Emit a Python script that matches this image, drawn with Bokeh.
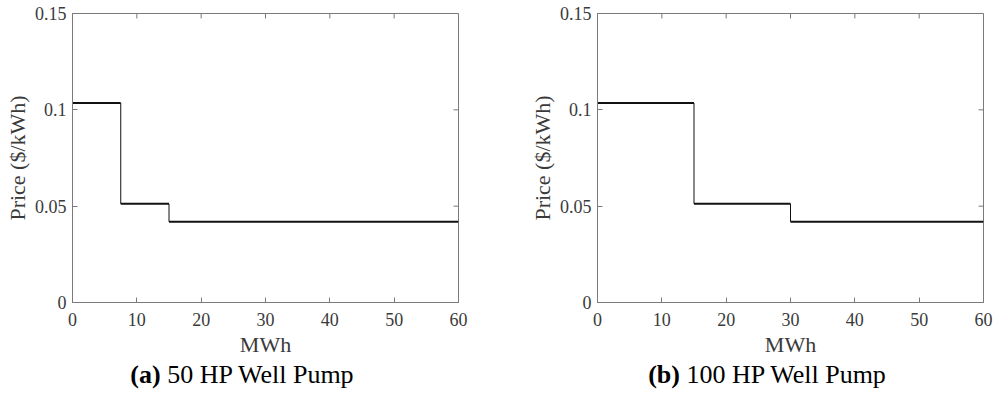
import math
from bokeh.plotting import figure
from bokeh.models import Range1d, FixedTicker, NumeralTickFormatter, Div
from bokeh.layouts import row, column
from bokeh.embed import file_html
from bokeh.resources import INLINE

# Data
breaks_a = [0, 7.5, 15, 60]
breaks_b = [0, 15, 30, 60]
prices = [0.1035, 0.0512, 0.0419]
x_ticks = [0, 10, 20, 30, 40, 50, 60]
y_ticks = [0, 0.05, 0.1, 0.15]
captions = [("(a)", "50 HP Well Pump"), ("(b)", "100 HP Well Pump")]

FONT = "Liberation Serif"
AX_COLOR = "#7a7a7a"
TXT_COLOR = "#3a3a3a"


def style_axis(ax):
    ax.axis_line_color = AX_COLOR
    ax.major_tick_line_color = AX_COLOR
    ax.major_tick_in = 5
    ax.major_tick_out = 0
    ax.minor_tick_line_color = None
    ax.major_label_text_font = FONT
    ax.major_label_text_color = TXT_COLOR
    ax.major_label_text_font_size = "18px"
    ax.axis_label_text_font = FONT
    ax.axis_label_text_color = TXT_COLOR
    ax.axis_label_text_font_style = "normal"
    ax.axis_label_text_font_size = "22px"


def make_panel(breaks, width, right_border):
    p = figure(width=width, output_backend="svg", toolbar_location=None,
               x_range=Range1d(0, 60), y_range=Range1d(0, 0.15),
               min_border_left=72, min_border_right=right_border,
               min_border_top=13, min_border_bottom=55)
    p.frame_width = 386
    p.frame_height = 289
    p.grid.visible = False
    p.outline_line_color = AX_COLOR
    p.background_fill_color = "white"
    p.border_fill_color = "white"

    xa = p.xaxis[0]
    ya = p.yaxis[0]
    xa.ticker = FixedTicker(ticks=x_ticks)
    ya.ticker = FixedTicker(ticks=y_ticks)
    ya.formatter = NumeralTickFormatter(format="0.[00]")
    style_axis(xa)
    style_axis(ya)
    xa.axis_label = "MWh"
    ya.axis_label = "Price ($/kWh)"
    xa.major_label_standoff = 10
    ya.major_label_standoff = 6
    xa.axis_label_standoff = 3
    ya.axis_label_standoff = 2

    # mirrored inward ticks on the top and right frame edges
    p.ray(x=x_ticks[1:-1], y=[y_ticks[-1]] * (len(x_ticks) - 2), length=5,
          length_units="screen", angle=-math.pi / 2, line_color=AX_COLOR, line_width=1)
    p.ray(x=[x_ticks[-1]] * (len(y_ticks) - 2), y=y_ticks[1:-1], length=5,
          length_units="screen", angle=math.pi, line_color=AX_COLOR, line_width=1)

    # horizontal steps
    p.segment(x0=breaks[:-1], x1=breaks[1:], y0=prices, y1=prices,
              line_color="#111111", line_width=2)
    # vertical drops
    p.segment(x0=breaks[1:-1], x1=breaks[1:-1], y0=prices[:-1], y1=prices[1:],
              line_color="#111111", line_width=1)
    return p


def make_caption(tag, text, width, pad_left, pad_right):
    html = (f'<div style="width:{width}px;text-align:center;font-family:\'{FONT}\';'
            f'font-size:26px;color:#000;line-height:32px;padding-left:{pad_left}px;'
            f'padding-right:{pad_right}px;box-sizing:border-box;">'
            f'<b>{tag}</b> {text}</div>')
    return Div(text=html, width=width, height=32, margin=(0, 0, 0, 0))


p1 = make_panel(breaks_a, 525, 67)
p2 = make_panel(breaks_b, 468, 10)
d1 = make_caption(*captions[0], 525, 0, 41)
d2 = make_caption(*captions[1], 468, 16, 0)

layout = row(column(p1, d1), column(p2, d2))

open("out.html", "w").write(file_html(layout, INLINE))
